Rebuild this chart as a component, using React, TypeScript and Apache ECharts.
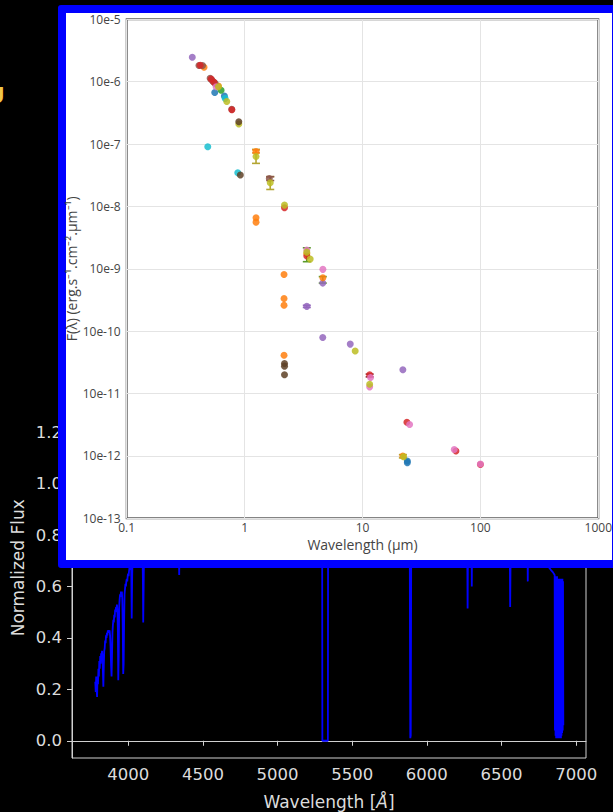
import React, { useEffect, useRef } from 'react';
import * as echarts from 'echarts';

// ---------- Background spectrum (normalized flux vs wavelength in Å) ----------
const specWave = [
  3779, 3782, 3785, 3788, 3791, 3794, 3797, 3800, 3803, 3806, 3809, 3812, 3815, 3818, 3821, 3824, 3827, 3830, 3833, 3836,
  3839, 3842, 3845, 3848, 3851, 3854, 3857, 3860, 3863, 3866, 3869, 3872, 3875, 3878, 3881, 3885, 3888, 3891, 3894, 3897,
  3900, 3903, 3906, 3909, 3912, 3915, 3918, 3921, 3924, 3927, 3930, 3933, 3936, 3939, 3942, 3945, 3948, 3951, 3954, 3957,
  3960, 3963, 3966, 3969, 3972, 3975, 3978, 3981, 3984, 3987, 3990, 3993, 3996, 3999, 4002, 4005, 4008, 4011, 4014, 4017,
  4020, 4023, 4026, 4030, 4045, 4060, 4080, 4094, 4098, 4100, 4103, 4107, 4130, 4170, 4220, 4280, 4332, 4338, 4341, 4344,
  4350, 4420, 4500, 4600, 4700, 4800, 4855, 4861, 4867, 4950, 5050, 5150, 5250, 5298, 5300, 5337, 5339, 5450, 5550, 5650,
  5750, 5850, 5884, 5887, 5889, 5892, 5894, 5897, 6000, 6100, 6200, 6266, 6270, 6273, 6276, 6280, 6298, 6301, 6304, 6400,
  6500, 6552, 6556, 6558, 6561, 6565, 6630, 6672, 6676, 6679, 6740, 6790, 6814, 6830, 6845, 6856, 6858, 6860, 6862, 6864,
  6866, 6868, 6870, 6872, 6874, 6876, 6878, 6880, 6882, 6884, 6886, 6888, 6890, 6892, 6894, 6896, 6898, 6900, 6902, 6904,
  6906, 6908, 6910, 6912, 6914,
];
const specFlux = [
  0.23, 0.19, 0.25, 0.2, 0.17, 0.25, 0.22, 0.28, 0.25, 0.31, 0.28, 0.33, 0.3, 0.34, 0.32, 0.35, 0.33, 0.27, 0.21, 0.29,
  0.35, 0.36, 0.39, 0.38, 0.41, 0.4, 0.42, 0.41, 0.43, 0.42, 0.43, 0.42, 0.43, 0.41, 0.37, 0.29, 0.25, 0.33, 0.42, 0.45,
  0.47, 0.46, 0.49, 0.48, 0.51, 0.5, 0.52, 0.51, 0.53, 0.51, 0.44, 0.235, 0.33, 0.52, 0.55, 0.57, 0.56, 0.58, 0.57, 0.58,
  0.55, 0.44, 0.26, 0.3, 0.46, 0.57, 0.59, 0.61, 0.6, 0.62, 0.63, 0.62, 0.64, 0.65, 0.64, 0.66, 0.67, 0.69, 0.71, 0.72,
  0.66, 0.476, 0.64, 0.74, 0.76, 0.78, 0.8, 0.79, 0.62, 0.46, 0.6, 0.81, 0.84, 0.87, 0.91, 0.95, 0.96, 0.78, 0.645, 0.8,
  0.98, 1.02, 1.06, 1.1, 1.13, 1.15, 1.12, 0.85, 1.13, 1.18, 1.2, 1.22, 1.23, 1.23, 0.0, 0.0, 1.22, 1.23, 1.24, 1.23,
  1.22, 1.2, 1.18, 0.4, 0.01, 0.02, 0.45, 1.18, 1.16, 1.13, 1.09, 1.05, 0.8, 0.515, 0.82, 0.98, 0.96, 0.6, 0.95, 1.02,
  0.99, 0.97, 0.7, 0.52, 0.72, 0.96, 0.93, 0.9, 0.62, 0.9, 0.82, 0.73, 0.677, 0.665, 0.655, 0.645, 0.04, 0.64, 0.02, 0.64,
  0.01, 0.63, 0.02, 0.64, 0.01, 0.63, 0.02, 0.63, 0.01, 0.63, 0.02, 0.63, 0.01, 0.62, 0.02, 0.63, 0.01, 0.62, 0.02, 0.62,
  0.03, 0.63, 0.04, 0.62, 0.06,
];
const specTicks = [4000, 4500, 5000, 5500, 6000, 6500, 7000];
const fluxTicks = [0, 0.2, 0.4, 0.6, 0.8, 1.0, 1.2];

// ---------- Inset SED (F(λ) vs wavelength in µm) ----------
const sedXTickLabels = ['0.1', '1', '10', '100', '1000'];
const sedYTickLabels = ['10e-13', '10e-12', '10e-11', '10e-10', '10e-9', '10e-8', '10e-7', '10e-6', '10e-5'];

const sedRed = [
  [0.42, 1.83e-6], [0.52, 1.1e-6], [0.55, 9.8e-7], [0.78, 3.55e-7], [2.18, 9.5e-9], [3.37, 1.6e-9],
  [11.5, 2.0e-11], [23.8, 3.47e-12], [62, 1.2e-12], [100, 7.3e-13],
];
const sedBrown = [
  [0.41, 1.82e-6], [0.44, 1.82e-6], [0.51, 1.13e-6], [0.527, 1.06e-6], [0.543, 1.0e-6], [0.562, 9.4e-7],
  [0.778, 3.6e-7], [1.62, 2.8e-8],
];
const sedDarkBrown = [[0.893, 2.28e-7], [0.92, 3.18e-8], [2.18, 3.03e-11], [2.18, 2.75e-11], [2.18, 2.0e-11]];
const sedPink = [
  [0.573, 8.3e-7], [3.37, 2.0e-9], [4.61, 9.8e-10], [11.7, 1.81e-11], [11.5, 1.28e-11], [25.1, 3.18e-12],
  [60, 1.27e-12], [100, 7.4e-13],
];
const sedOrange = [
  [0.453, 1.7e-6], [0.6, 8.5e-7], [1.25, 7.6e-8], [1.25, 6.6e-9], [1.25, 5.6e-9], [2.16, 8.1e-10], [2.16, 3.35e-10],
  [2.16, 2.6e-10], [2.16, 4.1e-11], [3.37, 1.76e-9], [4.61, 7.2e-10], [22, 1.0e-12],
];
const sedOlive = [
  [0.6, 8.3e-7], [0.706, 4.8e-7], [0.893, 2.1e-7], [1.25, 6.3e-8], [1.65, 2.4e-8], [2.18, 1.05e-8], [3.37, 1.85e-9],
  [3.6, 1.43e-9], [8.67, 4.8e-11], [11.5, 1.41e-11], [22.3, 9.7e-13],
];
const sedGreen = [[0.632, 7.3e-7]];
const sedBlue = [[0.558, 6.7e-7], [0.674, 5.9e-7], [24, 7.8e-13], [24, 8.3e-13]];
const sedCyan = [[0.683, 5.4e-7], [0.487, 9.05e-8], [0.875, 3.46e-8]];
const sedPurple = [[0.36, 2.46e-6], [3.37, 2.5e-10], [4.6, 5.9e-10], [4.6, 7.9e-11], [7.87, 6.2e-11], [22, 2.4e-11]];

// error bars: [wavelength, low, high]
const errOlive = [[1.25, 4.9e-8, 8.2e-8], [1.65, 1.87e-8, 3.0e-8], [22, 9.3e-13, 1.05e-12]];
const errOrange = [[1.25, 7.2e-8, 8.1e-8]];
const errBrown = [[1.65, 2.6e-8, 3.0e-8]];
const errGreen = [[3.37, 1.3e-9, 2.17e-9], [4.6, 5.9e-10, 7.5e-10]];
const errPurple = [[3.37, 2.4e-10, 2.6e-10]];
const errRed = [[11.5, 1.85e-11, 2.05e-11]];

const COLORS = {
  blue: '#1f77b4', orange: '#ff7f0e', green: '#2ca02c', red: '#d62728', purple: '#9467bd',
  brown: '#8c564b', darkBrown: '#5e4126', pink: '#e377c2', olive: '#bcbd22', cyan: '#17becf',
};

const lg = (v: number) => Math.log10(v);

function scatter(name: string, pts: number[][], color: string) {
  return {
    name,
    type: 'scatter',
    symbol: 'circle',
    symbolSize: 7,
    z: 3,
    itemStyle: { color, opacity: 0.85 },
    data: pts.map((p) => [lg(p[0]), lg(p[1])]),
  };
}

function errorBars(name: string, bars: number[][], color: string) {
  return {
    name,
    type: 'custom',
    z: 2,
    itemStyle: { color },
    renderItem: (params: any, api: any) => {
      const x = api.value(0);
      const p1 = api.coord([x, api.value(1)]);
      const p2 = api.coord([x, api.value(2)]);
      const w = 4;
      const style = { stroke: color, lineWidth: 1.6 };
      return {
        type: 'group',
        children: [
          { type: 'line', shape: { x1: p1[0], y1: p1[1], x2: p2[0], y2: p2[1] }, style },
          { type: 'line', shape: { x1: p1[0] - w, y1: p1[1], x2: p1[0] + w, y2: p1[1] }, style },
          { type: 'line', shape: { x1: p2[0] - w, y1: p2[1], x2: p2[0] + w, y2: p2[1] }, style },
        ],
      };
    },
    data: bars.map((b) => [lg(b[0]), lg(b[1]), lg(b[2])]),
  };
}

export default function App() {
  const bgRef = useRef<HTMLDivElement>(null);
  const sedRef = useRef<HTMLDivElement>(null);

  useEffect(() => {
    const bg = echarts.init(bgRef.current!, null, { renderer: 'svg' });
    const fg = '#dcdcdc';
    bg.setOption({
      animation: false,
      backgroundColor: '#000000',
      grid: {
        left: 72, top: 377.5, right: 27, bottom: 54, containLabel: false, outerBoundsMode: 'none',
        show: true, borderColor: '#d0d0d0', borderWidth: 1, backgroundColor: 'transparent',
      },
      graphic: [
        {
          type: 'text', left: -13, top: 84,
          style: { text: 'U', fill: '#f0c648', font: 'bold 22px "DejaVu Sans"' },
        },
      ],
      xAxis: {
        type: 'value', min: 3623, max: 7066,
        name: 'Wavelength [{i|Å}]', nameLocation: 'middle', nameGap: 35, nameMoveOverlap: false,
        nameTextStyle: {
          color: fg, fontSize: 17, fontFamily: 'DejaVu Sans',
          rich: { i: { color: fg, fontSize: 17, fontFamily: 'DejaVu Sans', fontStyle: 'italic' } },
        },
        axisLine: { show: true, lineStyle: { color: '#d0d0d0', width: 1 } },
        axisTick: { show: true, length: 5, inside: false, customValues: specTicks, lineStyle: { color: '#d0d0d0' } },
        axisLabel: {
          customValues: specTicks, color: fg, fontSize: 16.5, fontFamily: 'DejaVu Sans', margin: 8,
          formatter: (v: number) => String(v),
        },
        splitLine: { show: false },
      },
      yAxis: {
        type: 'value', min: -0.067, max: 1.413,
        name: 'Normalized Flux', nameLocation: 'middle', nameGap: 46, nameMoveOverlap: false,
        nameTextStyle: { color: fg, fontSize: 17, fontFamily: 'DejaVu Sans' },
        axisLine: { show: true, lineStyle: { color: '#d0d0d0', width: 1 } },
        axisTick: { show: true, length: 5, customValues: fluxTicks, lineStyle: { color: '#d0d0d0' } },
        axisLabel: {
          customValues: fluxTicks, color: fg, fontSize: 16.5, fontFamily: 'DejaVu Sans', margin: 10,
          formatter: (v: number) => v.toFixed(1),
        },
        splitLine: { show: false },
      },
      series: [
        {
          name: 'spectrum', type: 'line', showSymbol: false, symbol: 'none', clip: true,
          lineStyle: { color: '#0000ff', width: 1.8 },
          data: specWave.map((w, i) => [w, specFlux[i]]),
        },
      ],
    });

    const sed = echarts.init(sedRef.current!, null, { renderer: 'svg' });
    const txt = '#444444';
    sed.setOption({
      animation: false,
      backgroundColor: 'transparent',
      grid: {
        left: 68.7, top: 14.3, width: 471.6, height: 499, containLabel: false, outerBoundsMode: 'none',
        show: true, borderColor: '#5c5c5c', borderWidth: 2, backgroundColor: 'transparent',
      },
      xAxis: {
        type: 'value', min: -1, max: 3, interval: 1,
        name: 'Wavelength (µm)', nameLocation: 'middle', nameGap: 19, nameMoveOverlap: false,
        nameTextStyle: { color: txt, fontSize: 14, fontFamily: 'Open Sans' },
        axisLine: { show: false }, axisTick: { show: false },
        axisLabel: {
          color: txt, fontSize: 12, fontFamily: 'Open Sans', margin: 3,
          formatter: (v: number) => sedXTickLabels[Math.round(v) + 1],
        },
        splitLine: { show: true, lineStyle: { color: '#e4e4e4', width: 1 } },
      },
      yAxis: {
        type: 'value', min: -13, max: -5, interval: 1,
        name: 'F(λ) (erg.s⁻¹.cm⁻².µm⁻¹)', nameLocation: 'middle', nameGap: 48, nameMoveOverlap: false,
        nameTextStyle: { color: txt, fontSize: 14, fontFamily: 'Open Sans' },
        axisLine: { show: false }, axisTick: { show: false },
        axisLabel: {
          color: txt, fontSize: 12, fontFamily: 'Open Sans', margin: 6,
          formatter: (v: number) => sedYTickLabels[Math.round(v) + 13],
        },
        splitLine: { show: true, lineStyle: { color: '#e4e4e4', width: 1 } },
      },
      series: [
        errorBars('err olive', errOlive, '#b3a532'),
        errorBars('err orange', errOrange, '#e0902a'),
        errorBars('err brown', errBrown, COLORS.brown),
        errorBars('err green', errGreen, '#5a9a2c'),
        errorBars('err purple', errPurple, COLORS.purple),
        errorBars('err red', errRed, '#8a2a2a'),
        scatter('blue', sedBlue, COLORS.blue),
        scatter('cyan', sedCyan, COLORS.cyan),
        scatter('green', sedGreen, COLORS.green),
        scatter('purple', sedPurple, COLORS.purple),
        scatter('orange', sedOrange, COLORS.orange),
        scatter('brown', sedBrown, COLORS.brown),
        scatter('red', sedRed, COLORS.red),
        scatter('pink', sedPink, COLORS.pink),
        scatter('olive', sedOlive, COLORS.olive),
        scatter('dark brown', sedDarkBrown, COLORS.darkBrown),
      ],
    });

    return () => {
      bg.dispose();
      sed.dispose();
    };
  }, []);

  return (
    <div style={{ position: 'fixed', left: 0, top: 0, width: 613, height: 812, overflow: 'hidden', background: '#000' }}>
      <div ref={bgRef} style={{ position: 'absolute', left: 0, top: 0, width: 613, height: 812 }} />
      <div
        style={{
          position: 'absolute', left: 58, top: 5, width: 562, height: 563, boxSizing: 'border-box',
          border: '8px solid #0000ff', borderRadius: 3, background: '#ffffff',
        }}
      >
        <div ref={sedRef} style={{ position: 'absolute', left: -8, top: -8, width: 562, height: 563 }} />
      </div>
    </div>
  );
}
